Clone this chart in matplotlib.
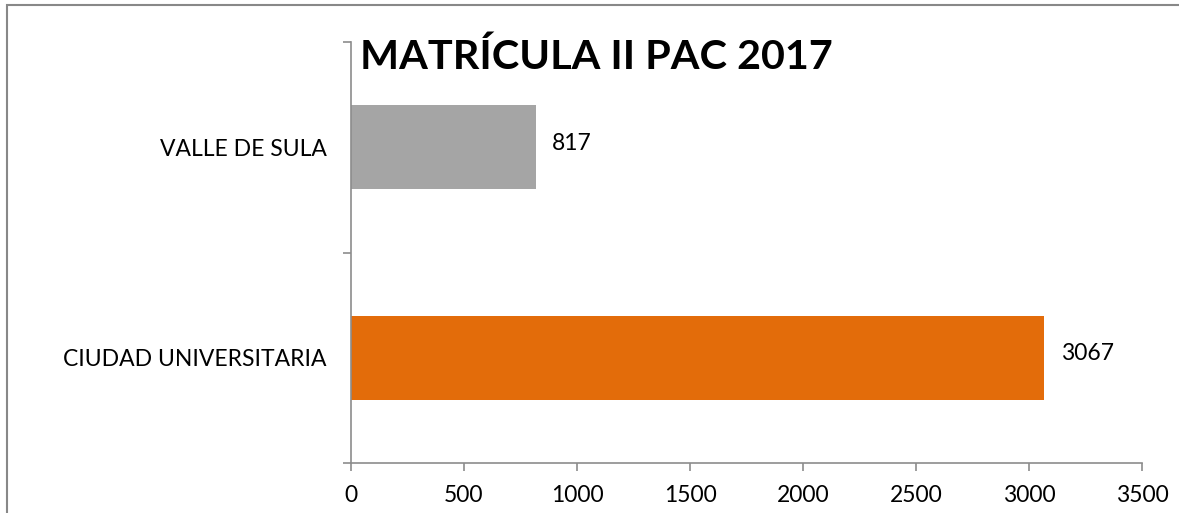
import matplotlib.pyplot as plt
from matplotlib.patches import Rectangle

categories = ['CIUDAD UNIVERSITARIA', 'VALLE DE SULA']
values = [3067, 817]
colors = ['#E36C0A', '#A5A5A5']

plt.rcParams['font.family'] = ['Lato', 'DejaVu Sans']

W, H = 1179, 513
fig = plt.figure(figsize=(W / 100, H / 100), dpi=100)
ax = fig.add_axes([351 / W, 1 - 463 / H, (1142 - 351) / W, (463 - 42) / H])

ypos = range(len(categories))
bars = ax.barh(ypos, values, height=0.4, color=colors)

for bar, v in zip(bars, values):
    ax.annotate(str(v), (bar.get_width(), bar.get_y() + bar.get_height() / 2),
                xytext=(12, 3), textcoords='offset points', ha='left', va='center',
                fontsize=16.5, color='black')

ax.set_xlim(0, 3500)
ax.set_ylim(-0.5, 1.5)
ax.set_xticks(range(0, 3501, 500))
ax.set_yticks(list(ypos))
ax.set_yticklabels(categories)
ax.set_yticks([-0.5, 0.5, 1.5], minor=True)

grey = '#8C8C8C'
for s in ['top', 'right']:
    ax.spines[s].set_visible(False)
for s in ['left', 'bottom']:
    ax.spines[s].set_color(grey)
    ax.spines[s].set_linewidth(1.2)

ax.tick_params(axis='y', which='major', length=0, pad=17.5, labelsize=16.5)
ax.tick_params(axis='y', which='minor', length=6, color=grey, width=1.2)
ax.tick_params(axis='x', length=6, color=grey, width=1.2, labelsize=16.5, pad=10)

fig.text(596 / W, 1 - 57 / H, 'MATRÍCULA II PAC 2017', ha='center', va='center',
         fontsize=29.8, fontweight='bold')

fig.patches.append(Rectangle((7 / W, -0.1), 1.2, 1 - 5 / H + 0.1, transform=fig.transFigure,
                             fill=False, edgecolor='#888888', linewidth=1.5))

fig.savefig('out.png', dpi=100)
